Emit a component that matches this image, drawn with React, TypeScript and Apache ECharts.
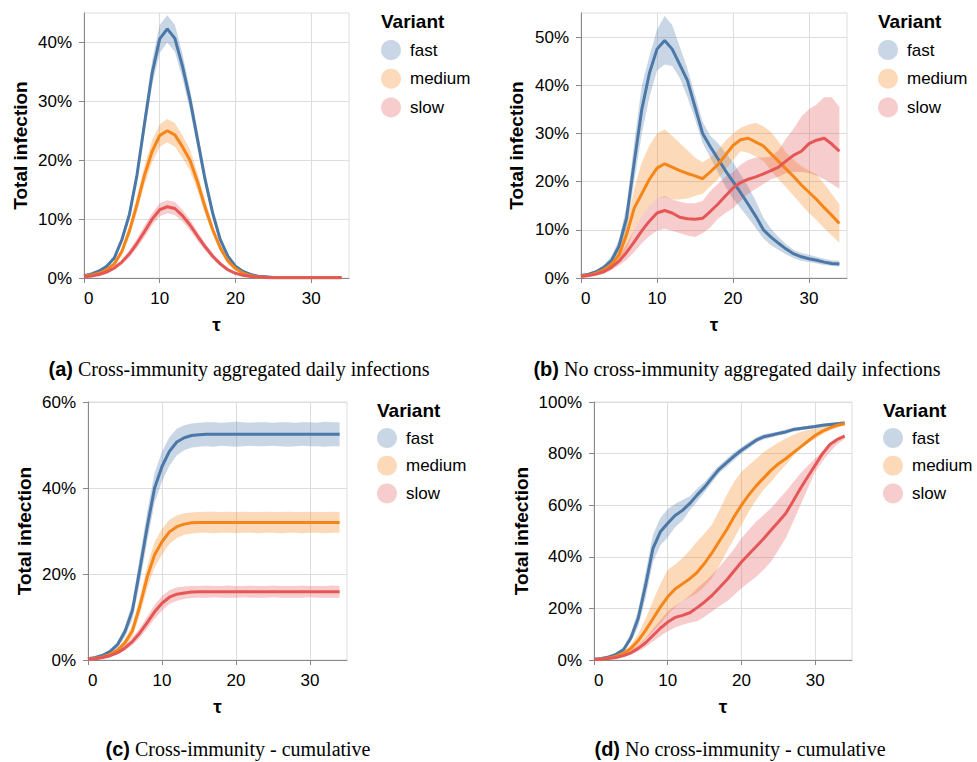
import React, { useEffect, useRef } from 'react';
import * as echarts from 'echarts';

// τ values (time steps)
const T = [0, 1, 2, 3, 4, 5, 6, 7, 8, 9, 10, 11, 12, 13, 14, 15, 16, 17, 18, 19, 20, 21, 22, 23, 24, 25, 26, 27, 28, 29, 30, 31, 32, 33, 34];
const VARIANTS = ['fast', 'medium', 'slow'];
const X_TICKS = [0, 10, 20, 30];

// (a) Cross-immunity aggregated daily infections (%)
const aFast = [0.4, 0.7, 1.2, 2.0, 3.4, 6.5, 10.8, 17.5, 26.3, 34.8, 40.6, 42.3, 40.7, 36.0, 30.3, 23.5, 16.7, 11.0, 6.5, 3.7, 2.0, 1.1, 0.6, 0.3, 0.2, 0.1, 0.1, 0.1, 0.1, 0.1, 0.1, 0.1, 0.1, 0.1, 0.1];
const aFastHi = [0.5, 0.8, 1.4, 2.3, 3.8, 7.1, 11.7, 18.7, 28.0, 36.9, 43.0, 44.6, 43.0, 38.1, 32.1, 25.0, 17.8, 11.8, 7.0, 4.0, 2.2, 1.2, 0.7, 0.4, 0.25, 0.15, 0.12, 0.12, 0.12, 0.12, 0.12, 0.12, 0.12, 0.12, 0.12];
const aFastLo = [0.3, 0.6, 1.0, 1.7, 3.0, 5.9, 9.9, 16.3, 24.6, 32.7, 38.2, 40.0, 38.4, 33.9, 28.5, 22.0, 15.6, 10.2, 6.0, 3.4, 1.8, 1.0, 0.5, 0.2, 0.15, 0.08, 0.08, 0.08, 0.08, 0.08, 0.08, 0.08, 0.08, 0.08, 0.08];
const aMed = [0.3, 0.5, 0.8, 1.4, 2.4, 4.5, 8.0, 12.5, 17.5, 21.5, 24.2, 25.0, 24.3, 22.3, 20.0, 16.3, 12.0, 8.2, 5.1, 2.9, 1.6, 0.8, 0.4, 0.2, 0.1, 0.05, 0.05, 0.05, 0.05, 0.05, 0.05, 0.05, 0.05, 0.05, 0.05];
const aMedHi = [0.4, 0.6, 1.0, 1.7, 2.8, 5.1, 8.9, 13.8, 19.1, 23.4, 26.1, 27.0, 26.3, 24.2, 21.8, 17.8, 13.2, 9.0, 5.7, 3.3, 1.8, 0.95, 0.5, 0.25, 0.15, 0.08, 0.08, 0.08, 0.08, 0.08, 0.08, 0.08, 0.08, 0.08, 0.08];
const aMedLo = [0.2, 0.4, 0.6, 1.1, 2.0, 3.9, 7.1, 11.2, 15.9, 19.6, 22.3, 23.0, 22.3, 20.4, 18.2, 14.8, 10.8, 7.4, 4.5, 2.5, 1.4, 0.65, 0.3, 0.15, 0.05, 0.02, 0.02, 0.02, 0.02, 0.02, 0.02, 0.02, 0.02, 0.02, 0.02];
const aSlow = [0.2, 0.35, 0.6, 1.0, 1.7, 2.7, 4.1, 5.9, 7.9, 10.0, 11.6, 12.1, 11.8, 10.6, 9.0, 7.1, 5.3, 3.7, 2.4, 1.4, 0.8, 0.45, 0.25, 0.15, 0.1, 0.05, 0.05, 0.05, 0.05, 0.05, 0.05, 0.05, 0.05, 0.05, 0.05];
const aSlowHi = [0.3, 0.45, 0.75, 1.2, 2.0, 3.1, 4.7, 6.7, 8.9, 11.0, 12.7, 13.2, 12.9, 11.6, 9.9, 7.9, 5.9, 4.2, 2.8, 1.7, 1.0, 0.6, 0.35, 0.2, 0.15, 0.08, 0.08, 0.08, 0.08, 0.08, 0.08, 0.08, 0.08, 0.08, 0.08];
const aSlowLo = [0.1, 0.25, 0.45, 0.8, 1.4, 2.3, 3.5, 5.1, 6.9, 9.0, 10.5, 11.0, 10.7, 9.6, 8.1, 6.3, 4.7, 3.2, 2.0, 1.1, 0.6, 0.3, 0.15, 0.08, 0.05, 0.02, 0.02, 0.02, 0.02, 0.02, 0.02, 0.02, 0.02, 0.02, 0.02];

// (b) No cross-immunity aggregated daily infections (%)
const bFast = [0.5, 0.8, 1.3, 2.2, 3.6, 6.6, 12.5, 24.0, 35.0, 42.5, 47.5, 49.3, 47.5, 44.3, 41.0, 35.5, 30.0, 27.3, 24.8, 22.3, 20.0, 17.7, 15.3, 12.8, 10.0, 8.5, 7.2, 6.0, 5.0, 4.4, 4.0, 3.7, 3.3, 3.0, 2.9];
const bFastHi = [0.7, 1.0, 1.6, 2.7, 4.5, 8.0, 15.0, 28.0, 40.0, 46.0, 51.5, 54.4, 52.5, 48.0, 43.5, 38.0, 32.5, 29.5, 28.0, 26.0, 24.0, 21.5, 19.0, 16.0, 12.5, 10.2, 8.5, 7.0, 5.8, 5.2, 4.8, 4.4, 4.0, 3.7, 3.6];
const bFastLo = [0.3, 0.6, 1.0, 1.7, 2.9, 5.3, 10.0, 20.0, 30.0, 37.5, 43.0, 44.3, 44.0, 41.5, 37.5, 33.0, 28.0, 25.0, 22.0, 19.0, 16.5, 14.5, 12.5, 10.3, 8.2, 6.8, 5.8, 4.9, 4.1, 3.6, 3.3, 3.0, 2.7, 2.5, 2.4];
const bMed = [0.4, 0.6, 1.0, 1.7, 2.8, 4.8, 9.0, 14.5, 17.5, 20.5, 22.8, 23.7, 23.0, 22.3, 21.7, 21.2, 20.6, 22.0, 23.5, 25.5, 27.5, 28.7, 29.0, 28.2, 27.4, 25.8, 24.2, 22.6, 21.0, 19.3, 17.8, 16.3, 14.6, 13.0, 11.3];
const bMedHi = [0.5, 0.8, 1.3, 2.2, 3.7, 6.2, 11.0, 18.5, 24.0, 27.5, 30.0, 30.8, 29.5, 28.0, 26.5, 25.0, 24.0, 25.0, 26.5, 28.5, 30.0, 31.2, 31.8, 32.2, 31.5, 30.3, 28.3, 26.0, 24.5, 23.2, 22.3, 21.5, 19.5, 17.5, 15.3];
const bMedLo = [0.3, 0.4, 0.7, 1.2, 2.0, 3.3, 6.0, 10.0, 13.0, 15.0, 16.5, 16.8, 16.3, 16.3, 16.5, 17.0, 17.5, 19.0, 20.5, 22.5, 24.5, 26.3, 26.0, 25.2, 24.3, 22.3, 20.5, 18.8, 17.0, 15.2, 13.5, 12.0, 10.3, 8.8, 7.3];
const bSlow = [0.3, 0.5, 0.8, 1.3, 2.2, 3.5, 5.3, 7.5, 9.8, 11.8, 13.5, 14.0, 13.5, 12.6, 12.3, 12.2, 12.4, 13.8, 15.3, 17.0, 18.7, 19.8, 20.5, 21.0, 21.6, 22.3, 23.0, 24.3, 25.5, 26.3, 27.9, 28.6, 29.0, 27.8, 26.3];
const bSlowHi = [0.4, 0.7, 1.1, 1.7, 2.9, 4.6, 7.0, 10.0, 13.0, 15.0, 16.5, 17.0, 16.3, 15.8, 15.5, 15.5, 16.0, 18.0, 19.5, 21.0, 22.0, 23.5, 24.5, 25.0, 25.0, 25.2, 26.5, 29.0, 31.0, 33.5, 35.0, 36.0, 37.5, 37.5, 35.5];
const bSlowLo = [0.2, 0.3, 0.5, 0.9, 1.6, 2.6, 3.8, 5.4, 7.2, 8.7, 9.8, 10.2, 9.8, 9.3, 8.8, 8.5, 9.3, 10.5, 12.3, 13.5, 14.5, 16.0, 17.5, 18.5, 19.5, 20.5, 21.0, 21.8, 22.0, 22.0, 21.8, 21.2, 20.5, 19.5, 18.5];

// (c) Cross-immunity - cumulative (%)
const cFast = [0.3, 0.6, 1.1, 2.0, 3.6, 6.6, 11.5, 21.0, 31.0, 40.0, 45.0, 48.5, 50.7, 51.7, 52.2, 52.4, 52.5, 52.5, 52.5, 52.5, 52.5, 52.5, 52.5, 52.5, 52.5, 52.5, 52.5, 52.5, 52.5, 52.5, 52.5, 52.5, 52.5, 52.5, 52.5];
const cFastHi = [0.4, 0.8, 1.4, 2.5, 4.3, 7.8, 13.5, 24.0, 34.5, 43.5, 48.5, 51.8, 53.8, 54.6, 55.0, 55.2, 55.3, 55.3, 55.2, 55.3, 55.4, 55.3, 55.2, 55.3, 55.3, 55.2, 55.3, 55.3, 55.2, 55.3, 55.3, 55.2, 55.4, 55.3, 55.3];
const cFastLo = [0.2, 0.4, 0.8, 1.5, 2.8, 5.4, 9.5, 18.0, 27.5, 36.5, 41.5, 45.2, 47.6, 48.8, 49.4, 49.6, 49.7, 49.6, 49.8, 49.7, 49.6, 49.7, 49.8, 49.7, 49.7, 49.8, 49.7, 49.6, 49.7, 49.8, 49.7, 49.7, 49.6, 49.7, 49.7];
const cMed = [0.2, 0.4, 0.7, 1.3, 2.3, 4.0, 6.8, 12.5, 19.3, 24.5, 27.5, 29.8, 31.0, 31.6, 31.9, 32.0, 32.0, 32.0, 32.0, 32.0, 32.0, 32.0, 32.0, 32.0, 32.0, 32.0, 32.0, 32.0, 32.0, 32.0, 32.0, 32.0, 32.0, 32.0, 32.0];
const cMedHi = [0.3, 0.5, 0.9, 1.6, 2.8, 4.9, 8.2, 14.5, 22.0, 27.5, 30.5, 32.6, 33.6, 34.1, 34.3, 34.4, 34.5, 34.5, 34.4, 34.5, 34.4, 34.5, 34.4, 34.4, 34.5, 34.4, 34.4, 34.5, 34.4, 34.4, 34.5, 34.4, 34.4, 34.5, 34.4];
const cMedLo = [0.1, 0.3, 0.5, 1.0, 1.8, 3.1, 5.4, 10.5, 16.6, 21.5, 24.5, 27.0, 28.4, 29.1, 29.4, 29.6, 29.6, 29.5, 29.6, 29.6, 29.5, 29.6, 29.6, 29.5, 29.6, 29.6, 29.5, 29.6, 29.6, 29.5, 29.6, 29.6, 29.5, 29.6, 29.6];
const cSlow = [0.15, 0.3, 0.6, 1.0, 1.7, 2.8, 4.3, 6.3, 8.7, 11.2, 13.2, 14.6, 15.3, 15.6, 15.8, 15.9, 15.9, 15.9, 15.9, 15.9, 15.9, 15.9, 15.9, 15.9, 15.9, 15.9, 15.9, 15.9, 15.9, 15.9, 15.9, 15.9, 15.9, 15.9, 15.9];
const cSlowHi = [0.2, 0.4, 0.75, 1.25, 2.1, 3.4, 5.1, 7.4, 10.1, 12.8, 14.9, 16.2, 16.9, 17.1, 17.2, 17.2, 17.3, 17.2, 17.2, 17.3, 17.2, 17.2, 17.3, 17.2, 17.2, 17.3, 17.2, 17.2, 17.2, 17.3, 17.2, 17.2, 17.2, 17.3, 17.2];
const cSlowLo = [0.1, 0.2, 0.45, 0.75, 1.3, 2.2, 3.5, 5.2, 7.3, 9.6, 11.5, 13.0, 13.8, 14.2, 14.4, 14.5, 14.5, 14.6, 14.5, 14.5, 14.5, 14.6, 14.5, 14.5, 14.5, 14.6, 14.5, 14.5, 14.5, 14.5, 14.6, 14.5, 14.5, 14.5, 14.5];

// (d) No cross-immunity - cumulative (%)
const dFast = [0.3, 0.6, 1.2, 2.2, 4.0, 8.5, 16.2, 29.0, 43.3, 49.7, 53.0, 56.0, 58.0, 60.7, 64.0, 67.0, 70.6, 74.0, 76.5, 79.0, 81.3, 83.2, 85.2, 86.5, 87.1, 87.8, 88.4, 89.3, 89.7, 90.1, 90.5, 91.0, 91.3, 91.6, 91.8];
const dFastHi = [0.4, 0.8, 1.6, 2.8, 5.0, 10.5, 19.5, 34.0, 48.5, 55.0, 58.5, 60.5, 62.0, 63.5, 66.5, 69.0, 72.5, 75.5, 78.0, 80.5, 82.5, 84.5, 86.2, 87.5, 88.0, 88.6, 89.3, 90.0, 90.4, 90.8, 91.2, 91.6, 91.9, 92.2, 92.4];
const dFastLo = [0.2, 0.4, 0.9, 1.7, 3.2, 7.0, 13.0, 24.0, 38.0, 44.5, 47.5, 51.5, 54.0, 58.0, 61.5, 65.0, 68.8, 72.5, 75.0, 77.5, 80.0, 82.0, 84.2, 85.5, 86.2, 87.0, 87.6, 88.5, 89.0, 89.4, 89.8, 90.3, 90.7, 91.0, 91.2];
const dMed = [0.2, 0.4, 0.8, 1.5, 2.6, 4.5, 7.5, 11.5, 16.0, 20.5, 24.5, 27.5, 29.5, 31.5, 34.0, 37.5, 41.5, 46.0, 50.5, 55.5, 60.0, 64.0, 67.5, 70.5, 73.5, 76.0, 78.0, 80.3, 82.5, 84.8, 87.0, 88.7, 90.0, 91.0, 91.6];
const dMedHi = [0.3, 0.6, 1.1, 2.0, 3.5, 6.0, 10.0, 16.0, 23.0, 29.5, 35.0, 37.0, 39.5, 42.5, 46.0, 49.0, 52.5, 58.0, 64.0, 69.0, 73.0, 75.5, 78.0, 80.5, 82.5, 84.3, 85.8, 87.2, 88.4, 89.1, 89.7, 90.4, 91.1, 92.0, 92.9];
const dMedLo = [0.1, 0.2, 0.5, 1.0, 1.8, 3.2, 5.3, 8.0, 11.0, 14.0, 17.5, 20.5, 22.7, 24.3, 26.0, 28.5, 31.7, 36.5, 42.0, 47.0, 52.3, 57.5, 62.0, 66.0, 69.0, 72.5, 75.5, 79.0, 82.0, 84.0, 85.8, 87.5, 89.0, 90.0, 91.0];
const dSlow = [0.2, 0.3, 0.6, 1.0, 1.7, 2.8, 4.5, 6.7, 9.5, 12.3, 14.7, 16.5, 17.3, 18.3, 20.3, 22.5, 25.0, 28.0, 31.0, 34.5, 38.0, 41.0, 44.0, 47.0, 50.3, 53.5, 56.8, 61.5, 66.5, 71.0, 75.5, 80.0, 83.5, 85.5, 86.8];
const dSlowHi = [0.3, 0.5, 0.9, 1.4, 2.3, 3.7, 5.8, 8.5, 12.0, 15.5, 18.8, 21.0, 22.7, 25.0, 27.8, 30.3, 33.0, 36.0, 39.4, 43.0, 47.2, 50.5, 53.6, 56.2, 58.8, 62.0, 65.2, 68.8, 72.3, 75.3, 78.1, 80.8, 83.2, 85.5, 87.8];
const dSlowLo = [0.1, 0.2, 0.4, 0.7, 1.2, 2.0, 3.3, 5.0, 7.2, 9.3, 11.1, 12.6, 13.7, 14.4, 15.0, 16.8, 18.8, 20.8, 22.7, 25.2, 27.8, 30.0, 32.3, 35.0, 38.1, 42.5, 47.2, 53.5, 60.0, 66.5, 73.0, 77.0, 80.7, 83.5, 85.8];

const CAPTION_LABELS = ['(a)', '(b)', '(c)', '(d)'];
const CAPTION_TEXTS = [
  'Cross-immunity aggregated daily infections',
  'No cross-immunity aggregated daily infections',
  'Cross-immunity - cumulative',
  'No cross-immunity - cumulative',
];

const PANEL_DATA = [
  { yMax: 45, yStep: 10, yTicks: [0, 10, 20, 30, 40], lines: [aFast, aMed, aSlow], his: [aFastHi, aMedHi, aSlowHi], los: [aFastLo, aMedLo, aSlowLo] },
  { yMax: 55, yStep: 10, yTicks: [0, 10, 20, 30, 40, 50], lines: [bFast, bMed, bSlow], his: [bFastHi, bMedHi, bSlowHi], los: [bFastLo, bMedLo, bSlowLo] },
  { yMax: 60, yStep: 20, yTicks: [0, 20, 40, 60], lines: [cFast, cMed, cSlow], his: [cFastHi, cMedHi, cSlowHi], los: [cFastLo, cMedLo, cSlowLo] },
  { yMax: 100, yStep: 20, yTicks: [0, 20, 40, 60, 80, 100], lines: [dFast, dMed, dSlow], his: [dFastHi, dMedHi, dSlowHi], los: [dFastLo, dMedLo, dSlowLo] },
];

// layout (pixels)
const LAYOUT = [
  { left: 84, top: 13, width: 265, height: 265, yNameGap: 54, legendLeft: 381, legendTop: 40, legendGap: 8.7, titleX: 381, titleY: 21.5, capX: 239, capY: 369 },
  { left: 581, top: 13, width: 266, height: 265, yNameGap: 55, legendLeft: 878, legendTop: 40, legendGap: 8.7, titleX: 878, titleY: 21.5, capX: 737, capY: 369 },
  { left: 88, top: 402, width: 259, height: 258, yNameGap: 54, legendLeft: 377, legendTop: 428, legendGap: 7.7, titleX: 377, titleY: 410.5, capX: 238, capY: 749 },
  { left: 594, top: 402, width: 258, height: 258, yNameGap: 63, legendLeft: 883, legendTop: 428, legendGap: 7.7, titleX: 883, titleY: 410.5, capX: 740, capY: 749 },
];

const COLORS = ['#4c78a8', '#f58518', '#e45756'];
const BANDS = ['rgba(76,120,168,0.3)', 'rgba(245,133,24,0.3)', 'rgba(228,87,86,0.3)'];
const SANS = '"Liberation Sans", Arial, Helvetica, sans-serif';
const SERIF = '"Liberation Serif", "Times New Roman", serif';

function buildOption() {
  const grid: any[] = [];
  const xAxis: any[] = [];
  const yAxis: any[] = [];
  const legend: any[] = [];
  const bandSeries: any[] = [];
  const lineSeries: any[] = [];
  const graphic: any[] = [];

  PANEL_DATA.forEach((p, i) => {
    const L = LAYOUT[i];
    grid.push({ left: L.left, top: L.top, width: L.width, height: L.height, show: true, borderColor: '#ddd', borderWidth: 1, backgroundColor: 'transparent' });
    xAxis.push({
      type: 'value', gridIndex: i, min: 0, max: 35, interval: 10,
      name: 'τ', nameLocation: 'middle', nameGap: 37,
      nameTextStyle: { fontSize: 19, fontWeight: 'bold', color: '#000', fontFamily: SANS },
      axisLine: { show: true, onZero: false, lineStyle: { color: '#888', width: 1 } },
      axisTick: { show: true, length: 5, lineStyle: { color: '#888' }, customValues: X_TICKS },
      axisLabel: { fontSize: 17, color: '#000', fontFamily: SANS, margin: 12, showMaxLabel: false, alignMinLabel: 'left' },
      splitLine: { show: true, lineStyle: { color: '#ddd', width: 1 } },
    });
    yAxis.push({
      type: 'value', gridIndex: i, min: 0, max: p.yMax, interval: p.yStep,
      name: 'Total infection', nameLocation: 'middle', nameGap: L.yNameGap,
      nameTextStyle: { fontSize: 19, fontWeight: 'bold', color: '#000', fontFamily: SANS },
      axisLine: { show: true, onZero: false, lineStyle: { color: '#888', width: 1 } },
      axisTick: { show: true, length: 5, lineStyle: { color: '#888' }, customValues: p.yTicks },
      axisLabel: { fontSize: 17, color: '#000', fontFamily: SANS, margin: 12, formatter: '{value}%', showMaxLabel: p.yMax % p.yStep === 0 },
      splitLine: { show: true, lineStyle: { color: '#ddd', width: 1 } },
    });
    legend.push({
      orient: 'vertical', left: L.legendLeft, top: L.legendTop, padding: 0,
      itemWidth: 20, itemHeight: 20, itemGap: L.legendGap, icon: 'circle', selectedMode: false,
      textStyle: { fontSize: 17, color: '#000', fontFamily: SANS, padding: [0, 0, 0, 4] },
      data: VARIANTS.map((v, j) => ({ name: v, icon: 'circle', itemStyle: { color: BANDS[j], borderWidth: 0 } })),
    });
    VARIANTS.forEach((v, j) => {
      const lo = p.los[j];
      const hi = p.his[j];
      bandSeries.push({
        type: 'custom', name: `${v}-band-${i}`, xAxisIndex: i, yAxisIndex: i, silent: true, z: 1,
        encode: { x: 0, y: [1, 2] },
        data: T.map((t, k) => [t, lo[k], hi[k]]),
        renderItem: (params: any, api: any) => {
          if (params.dataIndex !== 0) return null;
          const upper = T.map((t, k) => api.coord([t, hi[k]]));
          const lower = T.map((t, k) => api.coord([t, lo[k]])).reverse();
          return {
            type: 'polygon',
            shape: { points: upper.concat(lower) },
            style: { fill: BANDS[j], stroke: 'none' },
          };
        },
      });
      lineSeries.push({
        type: 'line', name: v, xAxisIndex: i, yAxisIndex: i, symbol: 'none', z: 3,
        itemStyle: { color: COLORS[j] }, lineStyle: { color: COLORS[j], width: 3 },
        data: T.map((t, k) => [t, p.lines[j][k]]),
      });
    });
    graphic.push({
      type: 'text', x: L.titleX, y: L.titleY,
      style: { text: 'Variant', fontSize: 19, fontWeight: 'bold', fill: '#000', fontFamily: SANS, align: 'left', verticalAlign: 'middle' },
    });
    graphic.push({
      type: 'text', x: L.capX, y: L.capY,
      style: {
        text: `{b|${CAPTION_LABELS[i]}} {r|${CAPTION_TEXTS[i]}}`,
        fontSize: 20, fontFamily: SERIF, fill: '#000', align: 'center', verticalAlign: 'middle',
        rich: {
          b: { fontSize: 20, fontWeight: 'bold', fontFamily: SANS, fill: '#000' },
          r: { fontSize: 20, fontFamily: SERIF, fill: '#000' },
        },
      },
    });
  });

  return {
    animation: false,
    backgroundColor: '#fff',
    grid, xAxis, yAxis, legend, graphic,
    series: [...bandSeries, ...lineSeries],
  };
}

export default function App() {
  const ref = useRef<HTMLDivElement>(null);
  useEffect(() => {
    if (!ref.current) return;
    const chart = echarts.init(ref.current, undefined, { renderer: 'svg' });
    chart.setOption(buildOption() as any);
    return () => chart.dispose();
  }, []);
  return <div ref={ref} style={{ position: 'absolute', left: 0, top: 0, width: 977, height: 762 }} />;
}
